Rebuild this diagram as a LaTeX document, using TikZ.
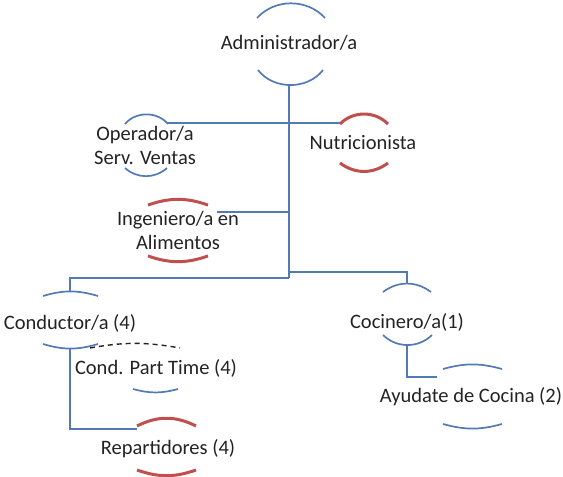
\documentclass[tikz,border=0pt]{standalone}
\usepackage{fontspec}
\setmainfont{Carlito}
\definecolor{lnblue}{RGB}{84,122,180}
\definecolor{arcred}{RGB}{192,80,77}
\definecolor{txt}{RGB}{35,35,35}
% #1 style, #2 x left, #3 x right, #4 y of ends, #5 sagitta (positive = bulges up)
\newcommand\hump[5]{%
  \pgfmathsetmacro\bang{2*atan((#5)/(((#3)-(#2))/2))}%
  \draw[#1] (#2,#4) to[bend left=\bang] (#3,#4);}
\begin{document}
\begin{tikzpicture}[x=1pt,y=-1pt,
  lbl/.style={text=txt,font=\fontsize{20.5}{24}\selectfont,align=center,inner sep=0pt},
  conn/.style={draw=lnblue,line width=1.8pt},
  barc/.style={draw=lnblue,line width=1.7pt},
  rarc/.style={draw=arcred,line width=3pt},
  darc/.style={draw=txt,line width=1.4pt,dash pattern=on 5pt off 4pt}]
\useasboundingbox (0,0) rectangle (563,477);
% text nodes
\node[lbl] (adm) at (289,43) {Administrador/a};
\node[lbl] (op) at (145,145) {Operador/a\\Serv. Ventas};
\node[lbl] (nut) at (363,143) {Nutricionista};
\node[lbl] (ing) at (178,230) {Ingeniero/a en\\Alimentos};
\node[lbl] (cond) at (70,323) {Conductor/a (4)};
\node[lbl] (pt) at (156,368) {Cond. Part Time (4)};
\node[lbl] (rep) at (168,449) {Repartidores (4)};
\node[lbl] (coc) at (407,322) {Cocinero/a(1)};
\node[lbl] (ayu) at (471,397) {Ayudate de Cocina (2)};
% arcs
\hump{barc}{257}{325}{18}{15}
\hump{barc}{258}{323}{70}{-16}
\hump{barc}{125}{168}{124}{10}
\hump{barc}{125}{167}{168}{-8}
\hump{rarc}{340}{388}{124}{10}
\hump{rarc}{340}{388}{163}{-8}
\hump{rarc}{148}{208}{205}{5}
\hump{rarc}{148}{208}{256}{-5}
\hump{barc}{43}{98}{296}{4}
\hump{barc}{43}{98}{344}{-4}
\hump{darc}{90}{180}{348}{4}
\hump{barc}{133}{178}{389}{-3}
\hump{rarc}{137}{196}{426}{7}
\hump{rarc}{137}{196}{470}{-5}
\hump{barc}{383}{431}{292}{8}
\hump{barc}{383}{432}{335}{-10}
\hump{barc}{443}{502}{369}{4}
\hump{barc}{443}{502}{424}{-4}
% connector anchor coordinates
\coordinate (admB) at (289,86);
\coordinate (trunkL) at (289,278);
\coordinate (trunkR) at (289,272);
\coordinate (opR) at (167,123);
\coordinate (nutL) at (340,123);
\coordinate (ingR) at (217,212);
\coordinate (ingJ) at (289,212);
\coordinate (condT) at (70,291);
\coordinate (condB) at (70,348);
\coordinate (repL) at (137,429);
\coordinate (cocT) at (407,284);
\coordinate (cocB) at (407,345);
\coordinate (ayuL) at (437,377);
% connectors
\draw[conn] (admB) -- (trunkL);
\draw[conn] (opR) -- (nutL);
\draw[conn] (ingR) -- (ingJ);
\draw[conn] (trunkL) -| (condT);
\draw[conn] (trunkR) -| (cocT);
\draw[conn] (condB) |- (repL);
\draw[conn] (cocB) |- (ayuL);
\end{tikzpicture}
\end{document}
